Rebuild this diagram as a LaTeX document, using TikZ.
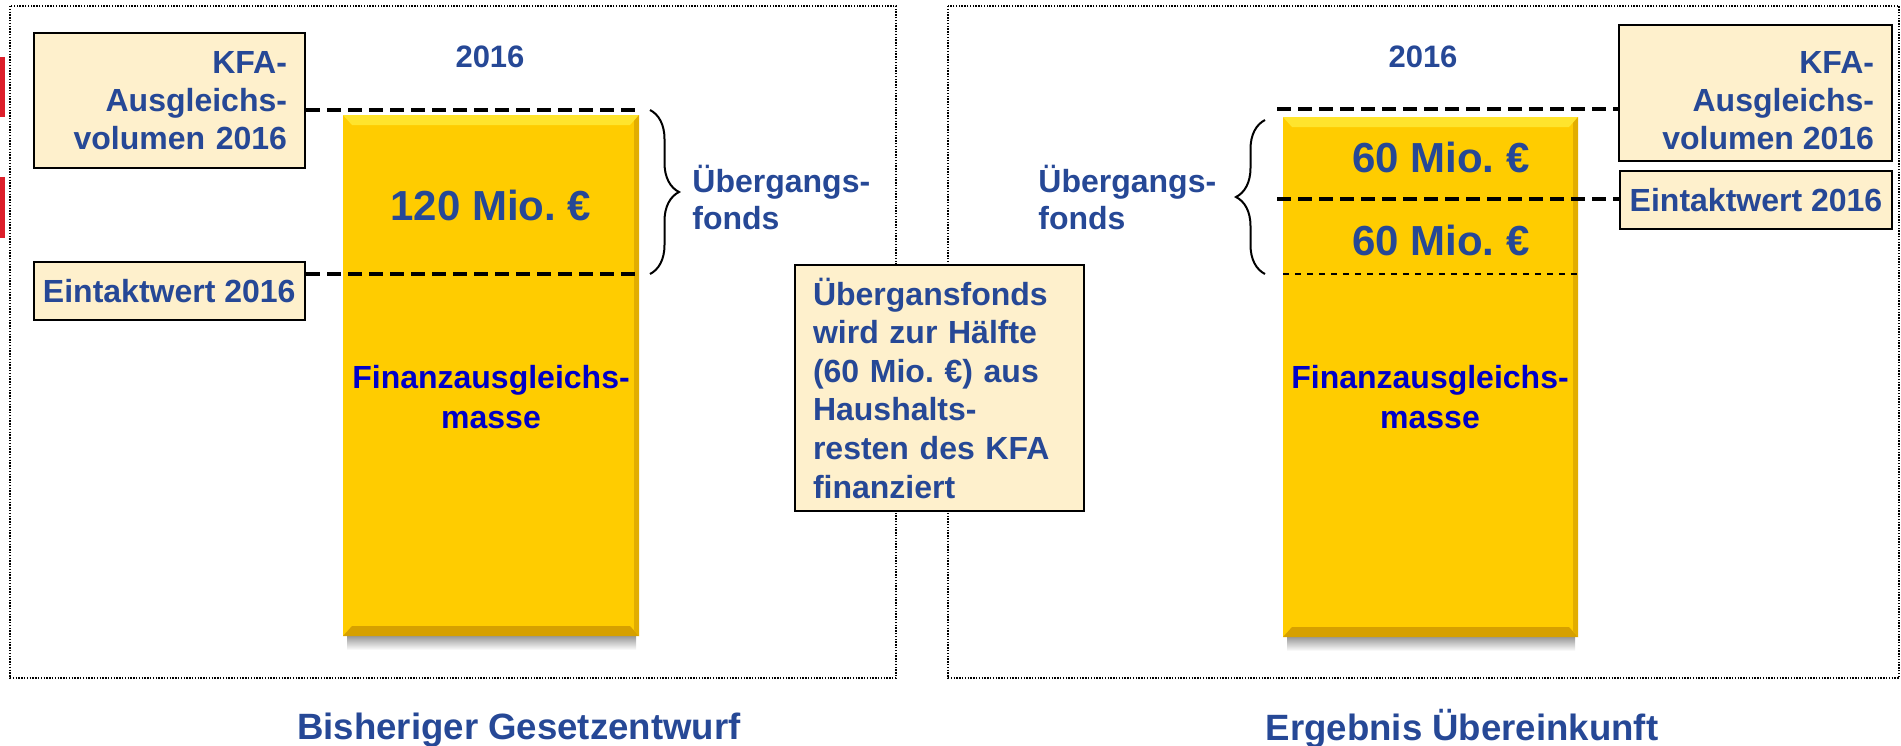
\documentclass[tikz,border=0pt]{standalone}
\usepackage{fontspec}
\setmainfont{Liberation Sans}
\usepackage{tikz}
\usetikzlibrary{decorations.pathreplacing}
\definecolor{txtblue}{RGB}{38,72,150}
\definecolor{massblue}{RGB}{0,0,200}
\definecolor{barfill}{RGB}{255,204,0}
\definecolor{barlight}{RGB}{255,228,45}
\definecolor{bardark}{RGB}{214,160,0}
\definecolor{boxfill}{RGB}{254,240,204}
\definecolor{edgered}{RGB}{222,32,44}
\tikzstyle{infobox}=[draw=black,fill=boxfill,line width=1pt,text=txtblue,
                     font=\bfseries\fontsize{16}{19}\selectfont,
                     inner xsep=9pt,inner ysep=0pt]
\tikzstyle{headtxt}=[text=txtblue,inner sep=0pt,
                     font=\bfseries\fontsize{15.5}{18}\selectfont]
\tikzstyle{valtxt}=[text=txtblue,inner sep=0pt,
                    font=\bfseries\fontsize{21}{25}\selectfont]
\tikzstyle{masstxt}=[text=massblue,inner sep=0pt,align=center,
                     font=\bfseries\fontsize{16}{20}\selectfont]
\tikzstyle{fondtxt}=[text=txtblue,inner sep=0pt,align=left,anchor=west,
                     font=\bfseries\fontsize{16}{18.5}\selectfont]
\tikzstyle{captxt}=[text=txtblue,inner sep=0pt,
                    font=\bfseries\fontsize{18.3}{22}\selectfont]
\tikzstyle{framebox}=[draw=black,line width=0.7pt,dash pattern=on 0.7pt off 0.7pt]
\tikzstyle{levelline}=[draw=black,line width=2pt,dash pattern=on 7pt off 3.5pt]
\tikzstyle{thinline}=[draw=black,line width=0.7pt,dash pattern=on 3pt off 3pt]
\tikzstyle{fondbrace}=[draw=black,line width=1pt,decorate,
                       decoration={brace,amplitude=14.5pt}]
\begin{document}
\frenchspacing
\begin{tikzpicture}[x=0.5pt,y=-0.5pt]
    \useasboundingbox (0,0) rectangle (1901,745);
    % frames and red edge marks
    \draw[framebox] (10,6) rectangle (896,678);
    \draw[framebox] (948,6) rectangle (1899,678);
    \fill[edgered] (0,57) rectangle (4.5,117);
    \fill[edgered] (0,177) rectangle (4.5,238);

    % left column
    \shade[top color=black!40,bottom color=white] (347,636) rectangle (636,650);
    \fill[barfill] (343,115) rectangle (639,636);
    \fill[barlight] (343,115) -- (639,115) -- (630,125) -- (352,125) -- cycle;
    \fill[bardark] (343,636) -- (639,636) -- (630,626) -- (352,626) -- cycle;
    \fill[bardark!70!barfill] (639,115) -- (639,636) -- (634,630) -- (634,121) -- cycle;
    \node (yearL) at (490,57) [headtxt]{2016};
    \node (kfaL) at (169.25,100.5) [infobox,align=right,text width=117.75pt,
        minimum height=67.5pt]{KFA-\\Ausgleichs-\\volumen 2016};
    \node (eckL) at (169.25,291) [infobox,minimum width=135.75pt,
        minimum height=29pt,inner xsep=2pt]{Eintaktwert 2016};
    \coordinate (topL) at (639,110);
    \coordinate (eckLend) at (639,274);
    \draw[levelline] (kfaL.east |- topL) -- (topL);
    \draw[levelline] (eckL.east |- eckLend) -- (eckLend);
    \node (valL) at (491,205) [valtxt]{120 Mio. €};
    \node (massL) at (491,397) [masstxt]{Finanzausgleichs-\\masse};
    \draw[fondbrace] (650,110) -- (650,274);
    \node (fondL) at (692,197) [fondtxt]{Übergangs-\\fonds};
    \node (capL) at (519,730) [captxt]{Bisheriger Gesetzentwurf};

    % right column
    \shade[top color=black!40,bottom color=white] (1287,637) rectangle (1575,651);
    \fill[barfill] (1283,117) rectangle (1578,637);
    \fill[barlight] (1283,117) -- (1578,117) -- (1569,127) -- (1292,127) -- cycle;
    \fill[bardark] (1283,637) -- (1578,637) -- (1569,627) -- (1292,627) -- cycle;
    \fill[bardark!70!barfill] (1578,117) -- (1578,637) -- (1573,631) -- (1573,123) -- cycle;
    \node (yearR) at (1423,57) [headtxt]{2016};
    \node (kfaR) at (1755.5,93) [infobox,minimum height=68pt]
        {\parbox[c][57pt][b]{118.5pt}{\raggedleft KFA-\\Ausgleichs-\\volumen 2016}};
    \node (eckR) at (1756,200) [infobox,minimum width=136pt,
        minimum height=29pt,inner xsep=2pt]{Eintaktwert 2016};
    \coordinate (topR) at (1277,109);
    \coordinate (eckRstart) at (1277,199);
    \coordinate (halfR) at (1283,274);
    \coordinate (halfRend) at (1578,274);
    \draw[levelline] (topR) -- (kfaR.west |- topR);
    \draw[levelline] (eckRstart) -- (eckR.west |- eckRstart);
    \draw[thinline] (halfR) -- (halfRend);
    \node (valRa) at (1441,157) [valtxt]{60 Mio. €};
    \node (valRb) at (1441,240) [valtxt]{60 Mio. €};
    \node (massR) at (1430,397) [masstxt]{Finanzausgleichs-\\masse};
    \draw[fondbrace] (1265,274) -- (1265,120);
    \node (fondR) at (1038,197) [fondtxt]{Übergangs-\\fonds};
    \node (capR) at (1462,729) [captxt]{Ergebnis Übereinkunft};

    % note between the columns
    \node (note) at (939.5,388) [infobox,align=left,text width=126.5pt,
        minimum height=123pt,font=\bfseries\fontsize{16}{19.3}\selectfont]
        {Übergansfonds\\wird zur Hälfte\\(60 Mio. €) aus\\Haushalts-\\resten des KFA\\finanziert};
\end{tikzpicture}
\end{document}
